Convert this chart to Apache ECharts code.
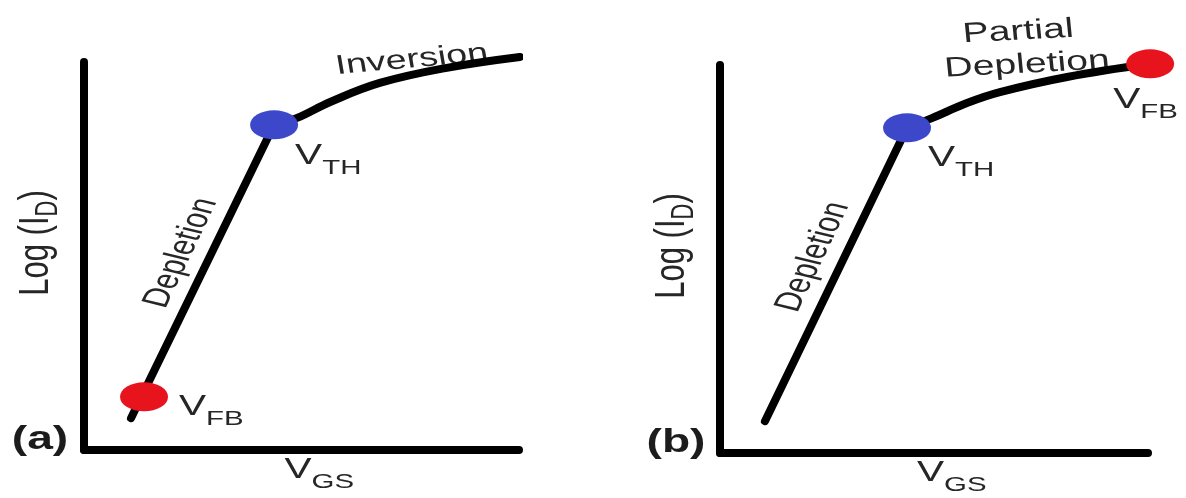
<!DOCTYPE html>
<html>
<head>
<meta charset="utf-8">
<script src="https://cdn.jsdelivr.net/npm/echarts@6/dist/echarts.min.js"></script>
<style>
  html, body { margin: 0; padding: 0; background: #ffffff; }
  #chart { width: 1186px; height: 498px; }
</style>
</head>
<body>
<div id="chart"></div>
<script>
// ---- Panel (a): log(ID) vs VGS, depletion then inversion ----
const aDepletion = [[1.08, 0.82], [4.37, 8.38]];
const aInversion = [[4.37, 8.38], [4.90, 8.56], [5.66, 8.97], [6.80, 9.46], [8.34, 9.85], [10.02, 10.13]];
const aFlatBand  = [[1.38, 1.37]];
const aThreshold = [[4.37, 8.38]];

// ---- Panel (b): depletion then partial depletion up to flat band ----
const bDepletion = [[1.05, 0.82], [4.37, 8.38]];
const bPartial   = [[4.37, 8.38], [4.95, 8.63], [5.77, 9.02], [6.54, 9.30], [8.11, 9.69], [10.05, 10.03]];
const bFlatBand  = [[10.05, 10.03]];
const bThreshold = [[4.37, 8.38]];

const panelTags = ['(a)', '(b)'];
const xTitle = ['V', 'GS'];
const yTitle = ['Log (I', 'D', ')'];

const FONT = '"Liberation Sans", Arial, sans-serif';
const INK = '#262626';
const RED = '#e8141d';
const BLUE = '#3c48c9';
const STRETCH = 1.4;   // lettering is drawn wide
const STROKE = 8;

const chart = echarts.init(document.getElementById('chart'), null, { renderer: 'canvas' });

const grids = [
  { left: 84, top: 62, width: 435, height: 388 },
  { left: 720, top: 65, width: 428, height: 388 }
];

function axis(i) {
  return {
    type: 'value', gridIndex: i, min: 0, max: 10,
    axisLine: { show: true, onZero: false, lineStyle: { color: '#000', width: STROKE, cap: 'round' } },
    axisTick: { show: false }, axisLabel: { show: false }, splitLine: { show: false }
  };
}

function curve(i, data, smooth) {
  return {
    type: 'line', xAxisIndex: i, yAxisIndex: i, data, smooth,
    symbol: 'none', clip: false, silent: true, z: 3,
    lineStyle: { color: '#000', width: STROKE, cap: 'round', join: 'round' }
  };
}

function dot(i, data, color) {
  return {
    type: 'scatter', xAxisIndex: i, yAxisIndex: i, data, clip: false, silent: true, z: 5,
    symbol: 'circle', symbolSize: [48, 29], itemStyle: { color, opacity: 1 }
  };
}

chart.setOption({
  backgroundColor: '#ffffff',
  animation: false,
  grid: grids,
  xAxis: [axis(0), axis(1)],
  yAxis: [axis(0), axis(1)],
  series: [
    curve(0, aDepletion, false),
    curve(0, aInversion, 0.4),
    dot(0, aFlatBand, RED),
    dot(0, aThreshold, BLUE),
    curve(1, bDepletion, false),
    curve(1, bPartial, 0.4),
    dot(1, bFlatBand, RED),
    dot(1, bThreshold, BLUE)
  ]
});

// ---- lettering ----
const measureCtx = document.createElement('canvas').getContext('2d');
function textWidth(t, size, weight) {
  measureCtx.font = (weight || 'normal') + ' ' + size + 'px ' + FONT;
  return measureCtx.measureText(t).width;
}

function textEl(x, y, t, size, weight, color) {
  return {
    type: 'text', x, y,
    style: {
      text: t, fontSize: size, fontFamily: FONT, fontWeight: weight || 'normal', fill: color || INK,
      align: 'left', verticalAlign: 'middle', textAlign: 'left', textVerticalAlign: 'middle'
    }
  };
}

// parts: array of [text, isSubscript]
function label(x, y, parts, opt) {
  opt = opt || {};
  const size = opt.size || 28, subSize = opt.subSize || 21, drop = opt.drop || 12;
  const weight = opt.weight || 'normal';
  let cursor = 0;
  const kids = [];
  parts.forEach(([t, sub]) => {
    const s = sub ? subSize : size;
    kids.push(textEl(cursor, sub ? drop : 0, t, s, weight, opt.color));
    cursor += textWidth(t, s, weight);
  });
  const shift = (opt.align === 'left') ? 0 : -cursor / 2;
  kids.forEach(k => { k.x += shift; });
  return {
    type: 'group', x, y, scaleX: STRETCH, silent: true, z: 10,
    children: [{ type: 'group', rotation: (opt.rot || 0) * Math.PI / 180, children: kids }]
  };
}

const px = (g, p) => chart.convertToPixel({ gridIndex: g }, p);

function panelFrame(g) {
  const o = px(g, [0, 0]);
  const far = px(g, [10, 10]);
  const cx = (o[0] + far[0]) / 2, cy = (o[1] + far[1]) / 2;
  return [
    label(o[0] - 48, cy - 13, [[yTitle[0], false], [yTitle[1], true], [yTitle[2], false]],
      { size: 31, subSize: 22, drop: 9, rot: 90 }),
    label(cx - 17, o[1] + 20, [[xTitle[0], false], [xTitle[1], true]],
      { size: 29, subSize: 21, drop: 12, align: 'left' }),
    label(o[0] - 44, o[1] - 10, [[panelTags[g], false]], { size: 33, weight: 'bold', color: '#1c1c1c' })
  ];
}

const aTH = px(0, aThreshold[0]);
const aFB = px(0, aFlatBand[0]);
const aEnd = px(0, aInversion[aInversion.length - 1]);
const bTH = px(1, bThreshold[0]);
const bFB = px(1, bFlatBand[0]);

const SUBLBL = { size: 29, subSize: 21, drop: 12, align: 'left' };

const graphics = [].concat(
  panelFrame(0),
  panelFrame(1),
  [
    label(aEnd[0] - 108, aEnd[1] + 3, [['Inversion', false]], { size: 27, rot: 7 }),
    label(aTH[0] + 21, aTH[1] + 31, [['V', false], ['TH', true]], SUBLBL),
    label(aFB[0] + 35, aFB[1] + 10, [['V', false], ['FB', true]], SUBLBL),
    label(aTH[0] - 93, aTH[1] + 128, [['Depletion', false]], { size: 27, rot: 71 }),

    label(bFB[0] - 132, bFB[1] - 32, [['Partial', false]], { size: 28, rot: 4 }),
    label(bFB[0] - 123, bFB[1] + 1, [['Depletion', false]], { size: 28, rot: 4 }),
    label(bTH[0] + 21, bTH[1] + 30, [['V', false], ['TH', true]], SUBLBL),
    label(bFB[0] - 37, bFB[1] + 36, [['V', false], ['FB', true]], SUBLBL),
    label(bTH[0] - 94, bTH[1] + 129, [['Depletion', false]], { size: 27, rot: 71 })
  ]
);

chart.setOption({ graphic: graphics });
</script>
</body>
</html>
